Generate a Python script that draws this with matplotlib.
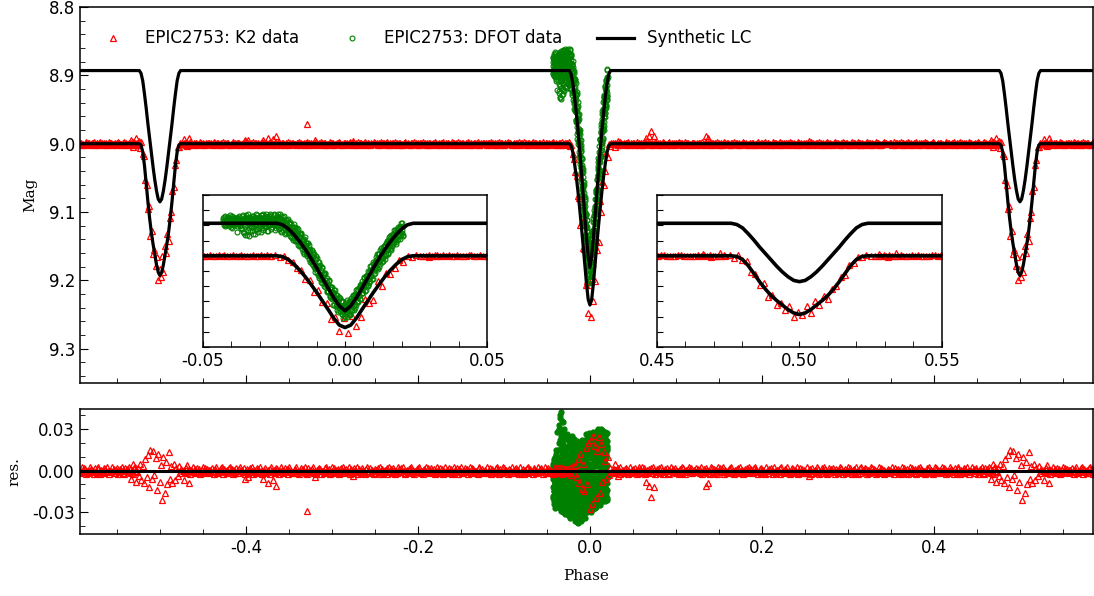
import numpy as np
import matplotlib.pyplot as plt
from matplotlib.ticker import MultipleLocator, FormatStrFormatter

plt.rcParams['axes.unicode_minus'] = False
plt.rcParams['font.size'] = 12

# eclipse profiles: offset from mid-eclipse (phase) vs depth below the out-of-eclipse level (mag)
ecl_offset = [0.0, 0.002, 0.004, 0.006, 0.008, 0.010, 0.012, 0.014, 0.016, 0.018, 0.020, 0.022, 0.024]
k2_prim_depth = [0.236, 0.228, 0.205, 0.176, 0.148, 0.120, 0.094, 0.069, 0.047, 0.028, 0.012, 0.003, 0.0]
k2_sec_depth = [0.193, 0.188, 0.177, 0.162, 0.147, 0.130, 0.109, 0.085, 0.058, 0.032, 0.012, 0.002, 0.0]
dfot_prim_depth = [0.288, 0.272, 0.245, 0.213, 0.180, 0.147, 0.115, 0.086, 0.060, 0.037, 0.018, 0.005, 0.0]
dfot_sec_depth = [0.192, 0.188, 0.176, 0.160, 0.141, 0.120, 0.099, 0.078, 0.055, 0.034, 0.015, 0.004, 0.0]
k2_level = 9.0
dfot_level = 8.893

# K2 out-of-eclipse O-C, one digit per point: residual = (digit - 4) * 0.55 mmag
# phase -0.4735 .. -0.0265
k2_band_left = """
43527146305482613746025184736251 52740368124573806241537846205173
36184527043615728405317264830152 71452608345172630485214736058241
24658130472563814072536481205637 60341728546013827451630274815362
48206137524806317452068314725406 15372840613527048261735041826374
83014526738150426378214056382714 37526041853712604825137460281537
06248135726403817562341078526314 52813704624178350621847352063148
41637250813460527183642057314826 27504816372541306824715380462713
"""
# phase 0.0265 .. 0.4735
k2_band_right = """
34615273082451637204815362740518 62837401526347185024637185203647
15048362751430628174053628471352 47362518046273514083726150483726
80524136728140536271845302617458 26137485204617352084136574028315
53708241635824017362548103726451 41825630714538260417358620147365
72046315827403615284730516284037 18354726051382746503128476350124
65213840735261408327516043827516 30471862534017268453102876341528
57620413865230741682053417628403 23846157302648510736482615073842
"""
# isolated K2 outliers away from the eclipses (phase, residual in mmag)
k2_out_phase = [-0.472, -0.469, -0.466, -0.401, -0.398, -0.3805, -0.3745, -0.3685, -0.3655,
                -0.3295, -0.320, -0.275, 0.0295, 0.0325, 0.0655, 0.0685, 0.0715, 0.0745,
                0.1345, 0.1375, 0.255, 0.466, 0.469, 0.472]
k2_out_res = [-7, 4, -9, -6, -5, -6, -9, -7, -11, -29, -5, -4, 5, -4, -8, -11, -19, -12,
              -11, -9, -4, -6, 5, -8]
# K2 through primary eclipse, phase -0.026 .. 0.025 (mmag)
k2_res_prim = """
1 -2 2 -3 3 -2 4 -5 8 -9 12 -13 5 -15 16 -10 20 -28 22 -24
25 18 -20 14 24 -16 19 -8 13 7 -6 10 -3 2 -1
"""
# K2 through secondary eclipse, phase 0.474 .. 0.525 (mmag)
k2_res_sec = """
2 -4 5 -7 3 -9 8 -5 11 -12 15 -6 14 -3 9 -14 12 -8 4 -21
10 -16 6 -10 13 -6 3 -9 5 -7 2 -4 3 -2 1
"""
# DFOT O-C (mmag), two nights, phase -0.043 .. 0.0205
dfot_res_a = """
-12 5 -20 -3 8 -15 -7 2 -22 -10 4 -18 -1 -9 12 -25 -5 6 -14 0 -19 3 -8 -16 10 -4 -21 -11 7 -2
15 -13 -24 30 -6 2 -17 38 -9 -27 5 22 -14 -3 42 -20 9 -11 27 -1 -23 13 -7 35 -16 1 -28 18 -5 -12
15 -18 -8 30 -26 3 -12 23 -21 11 -4 -30 10 -15 7 26 -9 -24 6 -2 18 -19 -6 2 -27 4 21 -13 0 -17
10 -22 -31 18 -5 -14 24 -27 2 -9 15 -32 -18 6 21 -11 -25 -3 12 -20 8 -29 -7 19 -15 -1 23 -24 4 -12
-30 14 -8 -36 5 -19 18 -26 -2 10 -33 -13 20 -23 -6 7 -38 -16 12 -28 1 -10 16 -35 -4 -21 9 -31 3 -15
-27 11 -18 20 -33 -5 14 -24 -12 22 -35 2 -15 8 -29 17 -9 -21 4 -31 13 -1 -26 19 -14 6 -34 -7 15 -19
12 -25 3 -16 23 -30 -6 17 -21 8 -12 25 -28 0 14 -19 -3 21 -26 10 -9 19 -23 5 -14 24 -30 -2 16 -18
26 -22 9 -13 20 -28 2 15 -18 28 -8 -25 12 -4 23 -20 6 -15 27 -11 -27 18 -2 10 -23 25 -6 -17 14 -10
22 -19 7 28 -12 -24 15 -3 30 -21 10 -8 25 -16 -1 19 -25 5 27 -13 12 -20 2 24 -9 -18 17 -4 29 -14
20 -15 8 26 -10 -22 14 -4 28 -18 6 23 -12 -1 17 -20 10 25 -7 -16 12 21 -13 3 18 -9 -21 15 27 -5
"""
dfot_res_b = """
-18 -6 3 -24 -11 7 -15 -2 -20 10 -8 -27 1 -13 -4 15 -22 -9 5 -17 -1 -12 28 -19 -7 2 -23 -14 9 -5
-10 20 -26 -3 33 -15 8 -21 -6 40 -12 -29 16 -2 -18 25 -8 -24 11 -14 36 -4 -20 6 -30 19 -11 29 -16 3
-20 9 -28 -5 14 -14 -31 2 -9 8 -25 -12 24 -3 -22 7 -17 -29 3 -6 -26 12 -10 -1 -32 5 -19 -8 17 -13
-25 7 -12 16 -34 -4 22 -19 -8 11 -28 1 -16 25 -22 -10 6 -31 14 -2 -20 19 -13 -27 3 17 -9 -33 10 -17
15 -28 -9 4 -34 17 -15 -24 9 -3 -37 12 -19 -6 21 -30 -11 2 -25 14 -8 -36 6 -17 18 -27 -1 -13 11 -32
8 -30 16 -11 -24 3 -36 19 -7 -18 12 -28 -2 21 -33 6 -14 -25 15 -9 -31 1 18 -20 -5 10 -27 22 -16 -3
-22 15 -8 26 -17 -29 4 19 -12 -25 22 -5 -19 9 -28 13 -1 -24 18 -10 27 -15 -6 20 -27 2 14 -20 -9 23
-14 24 -26 5 17 -9 -21 27 -3 12 -17 22 -28 -6 19 -13 8 -24 26 -1 -19 15 -11 21 -26 4 -8 28 -15 11
-11 26 -16 3 22 -23 13 -6 29 -18 -2 24 -12 8 -24 17 -9 27 -20 5 -14 23 -4 -22 14 -7 30 -17 1 20
-8 24 -19 11 27 -14 -3 20 -21 7 25 -10 -16 18 2 -22 13 28 -12 -5 22 -18 9 -2 26 -14 16 -20 4 21
"""


def mmag(txt):
    return np.array([float(v) for v in txt.split()]) * 1e-3


def band(txt):
    return (np.array([int(c) for c in ''.join(txt.split())]) - 4) * 0.55e-3


def synth(level, prim, sec):
    off = np.array(ecl_offset)
    ph, mag = [-0.62], [level]
    for c, d in [(-0.5, sec), (0.0, prim), (0.5, sec)]:
        d = np.array(d)
        ph += list(c - off[::-1]) + list(c + off[1:])
        mag += list(level + d[::-1]) + list(level + d[1:])
    ph.append(0.62)
    mag.append(level)
    return np.array(ph), np.array(mag)


k2_ph_mod, k2_mag_mod = synth(k2_level, k2_prim_depth, k2_sec_depth)
df_ph_mod, df_mag_mod = synth(dfot_level, dfot_prim_depth, dfot_sec_depth)

res_l, res_r = band(k2_band_left), band(k2_band_right)
res_p, res_s = mmag(k2_res_prim), mmag(k2_res_sec)
k2_ph = np.concatenate([np.linspace(-0.4735, -0.0265, len(res_l)),
                        np.linspace(-0.026, 0.025, len(res_p)),
                        np.linspace(0.0265, 0.4735, len(res_r)),
                        np.linspace(0.474, 0.525, len(res_s)),
                        k2_out_phase])
k2_res = np.concatenate([res_l, res_p, res_r, res_s, np.array(k2_out_res) * 1e-3])
# phase-folded data repeated beyond +-0.5
hi, lo = k2_ph > 0.4, k2_ph < -0.41
k2_ph = np.concatenate([k2_ph, k2_ph[hi] - 1, k2_ph[lo] + 1])
k2_res = np.concatenate([k2_res, k2_res[hi], k2_res[lo]])
k2_mag = np.interp(k2_ph, k2_ph_mod, k2_mag_mod) + k2_res

df_a, df_b = mmag(dfot_res_a), mmag(dfot_res_b)
df_ph = np.concatenate([np.linspace(-0.043, 0.0205, len(df_a)),
                        np.linspace(-0.0428, 0.0203, len(df_b))])
df_res = np.concatenate([df_a, df_b])
df_mag = np.interp(df_ph, df_ph_mod, df_mag_mod) + df_res

fig = plt.figure(figsize=(10.94, 5.96), dpi=100)
ax = fig.add_axes([0.0731, 0.3574, 0.926, 0.6309])
axr = fig.add_axes([0.0731, 0.104, 0.926, 0.2098])
ins1 = fig.add_axes([0.1856, 0.4178, 0.2596, 0.255])
ins2 = fig.add_axes([0.6005, 0.4178, 0.2605, 0.255])

k2_kw = dict(ls='none', marker='^', ms=5, mfc='none', mec='red', mew=0.9)
df_kw = dict(ls='none', marker='o', ms=3.5, mfc='none', mec='green', mew=0.8)

ax.plot(k2_ph, k2_mag, label='EPIC2753: K2 data', **k2_kw)
ax.plot(df_ph, df_mag, label='EPIC2753: DFOT data', **df_kw)
ax.plot(k2_ph_mod, k2_mag_mod, 'k-', lw=2.3, label='Synthetic LC')
ax.plot(df_ph_mod, df_mag_mod, 'k-', lw=2.3)
for a in (ins1, ins2):
    a.plot(k2_ph, k2_mag, **k2_kw)
    a.plot(df_ph, df_mag, **df_kw)
    a.plot(k2_ph_mod, k2_mag_mod, 'k-', lw=2.6)
    a.plot(df_ph_mod, df_mag_mod, 'k-', lw=2.6)

axr.plot(df_ph, df_res, ls='none', marker='o', ms=3.5, color='green')
axr.plot(k2_ph, k2_res, **k2_kw)
axr.axhline(0, color='k', lw=2.2)

ax.set_xlim(-0.593, 0.585)
ax.set_ylim(9.35, 8.8)
axr.set_xlim(-0.593, 0.585)
axr.set_ylim(-0.0457, 0.0443)
ins1.set_xlim(-0.05, 0.05)
ins2.set_xlim(0.45, 0.55)
for a in (ins1, ins2):
    a.set_ylim(9.3, 8.8)

for a in (ax, axr, ins1, ins2):
    a.tick_params(which='both', direction='in', top=False, right=False, labelsize=12)
    a.tick_params(which='major', length=6)
    a.tick_params(which='minor', length=3.5)
    for s in a.spines.values():
        s.set_linewidth(1.1)

ax.xaxis.set_major_locator(MultipleLocator(0.2))
ax.xaxis.set_minor_locator(MultipleLocator(0.05))
ax.yaxis.set_major_locator(MultipleLocator(0.1))
ax.yaxis.set_minor_locator(MultipleLocator(0.02))
ax.yaxis.set_major_formatter(FormatStrFormatter('%.1f'))
ax.tick_params(labelbottom=False)

axr.xaxis.set_major_locator(MultipleLocator(0.2))
axr.xaxis.set_minor_locator(MultipleLocator(0.05))
axr.xaxis.set_major_formatter(FormatStrFormatter('%.1f'))
axr.yaxis.set_major_locator(MultipleLocator(0.03))
axr.yaxis.set_minor_locator(MultipleLocator(0.01))
axr.yaxis.set_major_formatter(FormatStrFormatter('%.2f'))

for a in (ins1, ins2):
    a.xaxis.set_major_locator(MultipleLocator(0.05))
    a.xaxis.set_minor_locator(MultipleLocator(0.01))
    a.xaxis.set_major_formatter(FormatStrFormatter('%.2f'))
    a.yaxis.set_major_locator(MultipleLocator(0.05))
    a.tick_params(labelleft=False)
    a.tick_params(which='both', length=4)

lab_font = dict(family='DejaVu Serif', fontsize=11)
ax.set_ylabel('Mag', labelpad=8, **lab_font)
axr.set_ylabel('res.', labelpad=8, **lab_font)
axr.set_xlabel('Phase', labelpad=9, **lab_font)

ax.legend(loc='upper left', bbox_to_anchor=(0.0, 0.98), ncol=3, frameon=False,
          fontsize=12, handlelength=2.2, columnspacing=2.1, numpoints=1)

fig.savefig('out.png', dpi=100)
